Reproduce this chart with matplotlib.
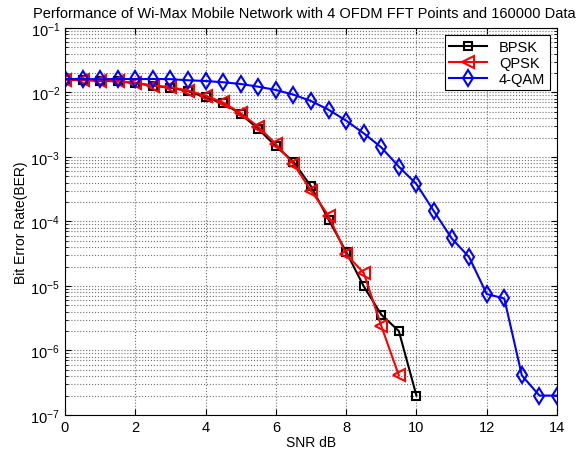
import numpy as np
import matplotlib
matplotlib.use("Agg")
import matplotlib.pyplot as plt
from matplotlib.ticker import LogLocator, FixedLocator, NullFormatter

plt.rcParams['font.family'] = ['Liberation Sans', 'DejaVu Sans']
plt.rcParams['mathtext.default'] = 'regular'

# SNR points (dB)
snr_bpsk = np.arange(0, 10.01, 0.5)
snr_qpsk = np.arange(0, 9.51, 0.5)
snr_qam = np.arange(0, 14.01, 0.5)

# BER
ber_bpsk = [0.0156, 0.0156, 0.0152, 0.0149, 0.0140, 0.0127, 0.0119, 0.0105,
            0.0084, 0.0068, 0.00464, 0.00272, 0.00147, 0.000845, 0.000352,
            1.07e-4, 3.4e-5, 9.9e-6, 3.6e-6, 2.0e-6, 2.0e-7]
ber_qpsk = [0.0157, 0.0157, 0.0153, 0.0150, 0.0141, 0.0128, 0.0121, 0.0107,
            0.0089, 0.0070, 0.00476, 0.00295, 0.00159, 0.000779, 0.000301,
            1.23e-4, 3.1e-5, 1.6e-5, 2.4e-6, 4.1e-7]
ber_qam = [0.0162, 0.0162, 0.0160, 0.0162, 0.0161, 0.0162, 0.0161, 0.01546,
           0.01507, 0.0144, 0.01355, 0.0123, 0.01094, 0.00925, 0.00738,
           0.0054, 0.00366, 0.00233, 0.00141, 0.000707, 0.000381, 0.000144,
           5.5e-5, 2.8e-5, 7.5e-6, 6.4e-6, 4.1e-7, 2.0e-7, 2.0e-7]

fig = plt.figure(figsize=(5.76, 4.6), dpi=100)
ax = fig.add_axes([0.1128, 0.0957, 0.8542, 0.8413])

ax.semilogy(snr_bpsk, ber_bpsk, '-s', color='black', lw=1.5, ms=6,
            mfc='none', mew=1.5, label='BPSK')
ax.semilogy(snr_qpsk, ber_qpsk, '-<', color='red', lw=1.5, ms=8,
            mfc='none', mew=1.5, label='QPSK')
ax.semilogy(snr_qam, ber_qam, '-d', color='blue', lw=1.5, ms=8,
            mfc='none', mew=1.5, label='4-QAM')

ax.set_xlim(0, 14)
ax.set_ylim(1e-7, 1e-1)
ax.xaxis.set_major_locator(FixedLocator(np.arange(0, 15, 2)))
ax.yaxis.set_major_locator(LogLocator(base=10, numticks=10))
ax.yaxis.set_minor_locator(LogLocator(base=10, subs=np.arange(2, 10), numticks=20))
ax.yaxis.set_minor_formatter(NullFormatter())

ax.grid(True, which='major', ls=':', color='#707070', lw=0.8)
ax.grid(True, which='minor', axis='y', ls=':', color='#707070', lw=0.8)
ax.tick_params(which='both', direction='in', top=True, right=True, labelsize=10.5)
ax.tick_params(which='major', length=4)
ax.tick_params(which='minor', length=2)

ax.set_xlabel('SNR dB', fontsize=10, labelpad=1)
ax.set_ylabel('Bit Error Rate(BER)', fontsize=10, labelpad=2)
# title sits a little left of the axes centre, as in the original
fig.text(0.528, 0.96, 'Performance of Wi-Max Mobile Network with 4 OFDM FFT Points and 160000 Data',
         fontsize=10.5, ha='center', va='baseline')

leg = ax.legend(loc='upper right', fontsize=10.5, fancybox=False, framealpha=1,
                edgecolor='black', borderaxespad=0.5, handlelength=2.6,
                labelspacing=0.15, borderpad=0.3)
leg.get_frame().set_linewidth(0.8)

fig.savefig('out.png', dpi=100)
